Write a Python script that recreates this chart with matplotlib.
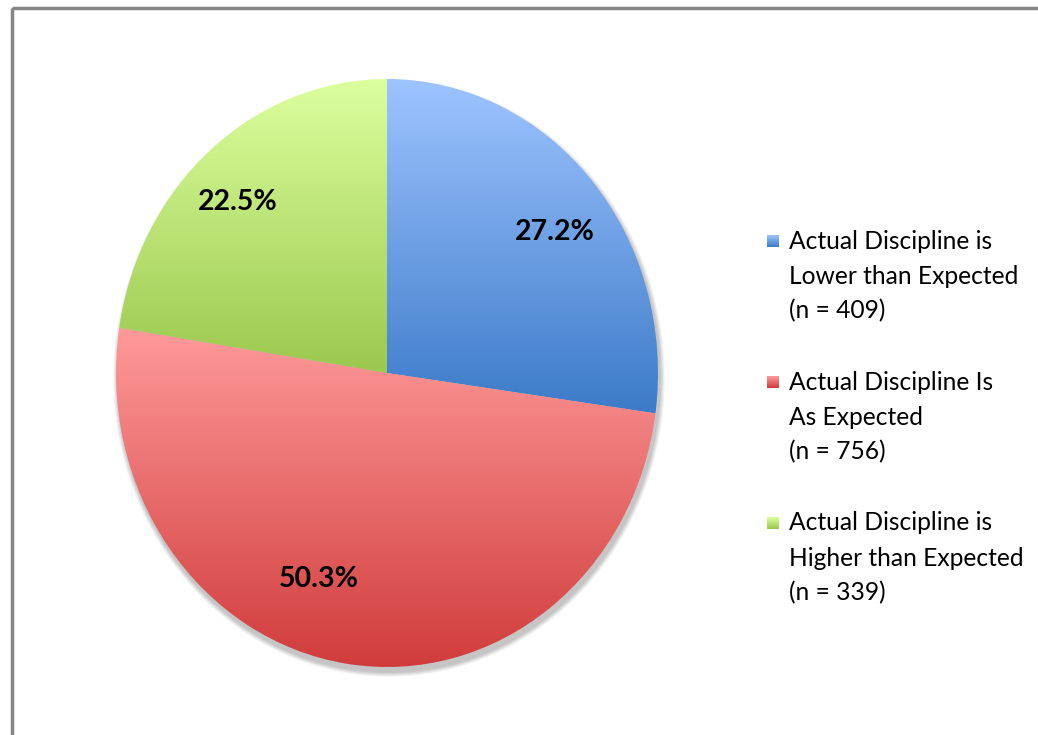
import matplotlib
matplotlib.use("Agg")
import matplotlib.pyplot as plt
import numpy as np
from matplotlib.colors import to_rgb
from matplotlib.patches import Ellipse, Rectangle

W, H = 1038, 735
DPI = 100

labels = ["Actual Discipline is\nLower than Expected\n(n = 409)",
          "Actual Discipline Is\nAs Expected\n(n = 756)",
          "Actual Discipline is\nHigher than Expected\n(n = 339)"]
counts = [409, 756, 339]
top_colors = ["#9ec4ff", "#ff9a9a", "#dcff9e"]
bottom_colors = ["#3c7bc8", "#d03c3c", "#9bc84e"]

# where the percent labels sit, in pie units
pct_pos = [(0.62, 0.48), (-0.25, -0.70), (-0.55, 0.58)]

FONT = ["Lato", "DejaVu Sans"]

# pie geometry in pixels (ellipse, as in the original)
CX, CY, RX, RY = 387, 373, 271, 294


def gradient(c_top, c_bot, n=256):
    a = np.array(to_rgb(c_top))
    b = np.array(to_rgb(c_bot))
    t = np.linspace(0, 1, n)[:, None]
    return (a * (1 - t) + b * t)[:, None, :]


fig = plt.figure(figsize=(W / DPI, H / DPI), dpi=DPI)

bg = fig.add_axes([0, 0, 1, 1])
bg.set_xlim(0, W)
bg.set_ylim(H, 0)
bg.axis("off")

# chart frame (runs off the right/bottom edge)
bg.add_patch(Rectangle((11.5, 8), 1100, 800, fill=False, edgecolor="#868686", lw=2.5))

# soft shadow under the pie
for i in range(10):
    grow = 10 - i
    bg.add_patch(Ellipse((CX + 2, CY + 5), 2 * RX + grow, 2 * RY + grow,
                         facecolor="black", edgecolor="none", alpha=0.025))

ax = fig.add_axes([(CX - RX) / W, (H - CY - RY) / H, 2 * RX / W, 2 * RY / H])
wedges, _, autotexts = ax.pie(counts, startangle=90, counterclock=False, radius=1,
                              autopct="%1.1f%%", pctdistance=0.78,
                              wedgeprops=dict(linewidth=0, edgecolor="none"),
                              textprops=dict(fontsize=20.5, fontweight="bold", family=FONT,
                                             color="black"))

for w, ct, cb in zip(wedges, top_colors, bottom_colors):
    ext = w.get_path().get_extents(w.get_patch_transform())
    w.set_facecolor("none")
    im = ax.imshow(gradient(ct, cb), extent=(ext.x0, ext.x1, ext.y0, ext.y1),
                   origin="upper", aspect="auto", zorder=1, interpolation="bilinear")
    im.set_clip_path(w)

for t, p in zip(autotexts, pct_pos):
    t.set_position(p)
    t.set_zorder(5)

ax.set_xlim(-1, 1)
ax.set_ylim(-1, 1)
ax.set_aspect("auto")
ax.axis("off")

# legend
legend_y = [241, 382, 523]
line_gap = 35
for lab, y, ct, cb in zip(labels, legend_y, top_colors, bottom_colors):
    bg.imshow(gradient(ct, cb, 32), extent=(767, 779, y + 6, y - 6),
              origin="upper", aspect="auto", interpolation="bilinear")
    for k, line in enumerate(lab.split("\n")):
        bg.text(789, y + k * line_gap, line, fontsize=17.7, family=FONT,
                color="black", va="center", ha="left")

bg.set_xlim(0, W)
bg.set_ylim(H, 0)

fig.savefig("out.png", dpi=DPI)
